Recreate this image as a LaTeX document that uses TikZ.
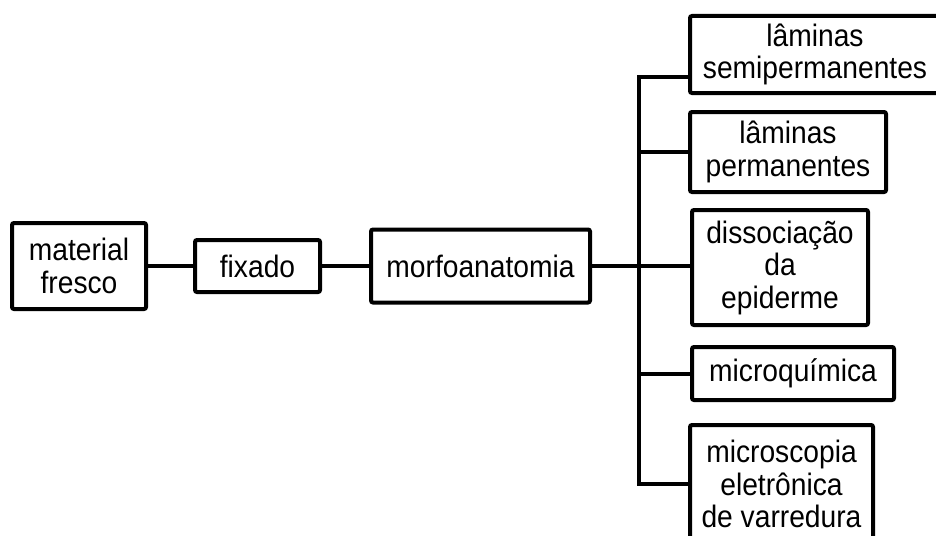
\documentclass[tikz,border=0pt]{standalone}
\usepackage{fontspec}
\setmainfont[FakeStretch=0.91]{Liberation Sans}
\begin{document}
\begin{tikzpicture}[x=1pt,y=-1pt,
  box/.style={draw, line width=4pt, rounded corners=2pt, inner sep=0pt, align=center,
    font=\fontsize{31}{32.5}\selectfont},
  conn/.style={line width=4pt}]
\useasboundingbox (0,0) rectangle (936,535);
\clip (0,0) rectangle (936,535);
\node[box, minimum width=134pt, minimum height=86pt] (mat) at (79,266) {material\\fresco};
\node[box, minimum width=125pt, minimum height=52pt] (fix) at (257.5,266) {fixado};
\node[box, minimum width=219pt, minimum height=73pt] (mor) at (480.5,266) {morfoanatomia};
\node[box, minimum width=250pt, minimum height=77pt] (semi) at (815,54.5) {lâminas\\semipermanentes};
\node[box, minimum width=196pt, minimum height=80pt] (perm) at (788,152) {lâminas\\permanentes};
\node[box, minimum width=176pt, minimum height=115pt] (dis) at (780,267.5) {dissociação\\da\\epiderme};
\node[box, minimum width=202pt, minimum height=53pt] (mq) at (793,373.5) {microquímica};
\node[box, minimum width=183pt, minimum height=118pt] (ms) at (781.5,484) {microscopia\\eletrônica\\de varredura};
\coordinate (vt) at (639,77);
\coordinate (vb) at (639,484);
\draw[conn] (mat.east) -- (fix.west);
\draw[conn] (fix.east) -- (mor.east -| mor.west);
\draw[conn] (mor.east) -- (mor.east -| dis.west);
\draw[conn] (vt -| semi.west) -- (vt) -- (vb) -- (ms.west);
\draw[conn] (perm.west -| vt) -- (perm.west);
\draw[conn] (mq.west -| vt) -- (mq.west);
\end{tikzpicture}
\end{document}
